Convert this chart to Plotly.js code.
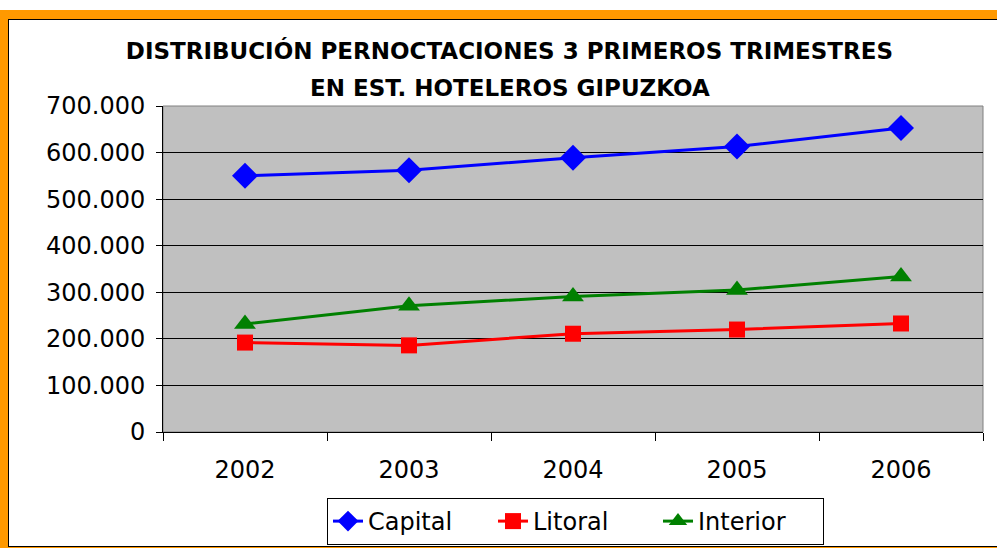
<!DOCTYPE html>
<html>
<head>
<meta charset="utf-8">
<script src="https://cdn.plot.ly/plotly-3.0.1.min.js"></script>
<style>
  body { margin: 0; background: #fff; overflow: hidden; }
  #frame { position: absolute; left: 0; top: 10px; width: 1010px; height: 548px; background: #FF9900; }
  #inner { position: absolute; left: 8px; top: 9px; width: 1000px; height: 526px; border: 1px solid #000; background: #fff; }
  #chart { position: absolute; left: 0; top: 0; width: 997px; height: 548px; }
</style>
</head>
<body>
<div id="frame"><div id="inner"></div></div>
<div id="chart"></div>
<script>
// datos (pernoctaciones)
var years = ["2002", "2003", "2004", "2005", "2006"];
var capital = [550000, 562000, 589000, 613000, 653000];
var litoral = [192000, 186000, 211000, 220000, 233000];
var interior = [232000, 271000, 291000, 305000, 334000];
var yTicks = [0, 100000, 200000, 300000, 400000, 500000, 600000, 700000];

var font = "DejaVu Sans, Arial, sans-serif";

function serie(name, vals, color, symbol, size) {
  return {
    x: years, y: vals, name: name, type: "scatter", mode: "lines+markers",
    line: {color: color, width: 3},
    marker: {color: color, symbol: symbol, size: size}
  };
}

var data = [
  serie("Capital", capital, "#0000FF", "diamond", 20),
  serie("Litoral", litoral, "#FF0000", "square", 16),
  serie("Interior", interior, "#008000", "triangle-up", 19)
];

var layout = {
  width: 997, height: 548,
  margin: {l: 163, r: 14, t: 106, b: 116},
  paper_bgcolor: "rgba(0,0,0,0)",
  plot_bgcolor: "#C0C0C0",
  separators: ",.",
  font: {family: font, color: "#000"},
  title: {
    text: "<b>DISTRIBUCIÓN PERNOCTACIONES 3 PRIMEROS TRIMESTRES</b>",
    font: {size: 23, family: font},
    xref: "container", x: 0.511, xanchor: "center",
    yref: "container", y: 1 - 43 / 548, yanchor: "top"
  },
  annotations: [{
    text: "<b>EN EST. HOTELEROS GIPUZKOA</b>",
    xref: "paper", yref: "paper",
    x: (510 - 163) / 820, y: (432 - 73) / 326,
    xanchor: "center", yanchor: "top",
    showarrow: false, font: {size: 23, family: font}
  }],
  xaxis: {
    type: "category",
    tickson: "boundaries", ticks: "outside", ticklen: 8, tickcolor: "#000",
    showline: true, linecolor: "#000", linewidth: 1,
    showgrid: false,
    tickfont: {size: 24},
    ticklabelstandoff: 16,
    range: [-0.5, 4.5]
  },
  yaxis: {
    range: [0, 700000],
    tickvals: yTicks,
    tickformat: ",d",
    ticks: "outside", ticklen: 6, tickcolor: "#000",
    showline: true, linecolor: "#000", linewidth: 1,
    gridcolor: "#000", gridwidth: 1,
    zeroline: false,
    tickfont: {size: 24},
    ticklabelstandoff: 6
  },
  shapes: [{
    type: "rect", xref: "paper", yref: "paper", x0: 0, x1: 1, y0: 0, y1: 1,
    line: {color: "#808080", width: 1}, layer: "below"
  }],
  showlegend: true,
  legend: {
    orientation: "h",
    xref: "container", x: 327 / 997, xanchor: "left",
    yref: "container", y: 1 - 498 / 548, yanchor: "top",
    bgcolor: "#fff", bordercolor: "#000", borderwidth: 1,
    entrywidth: 120,
    font: {size: 24}
  }
};

Plotly.newPlot("chart", data, layout, {displayModeBar: false});
</script>
</body>
</html>
